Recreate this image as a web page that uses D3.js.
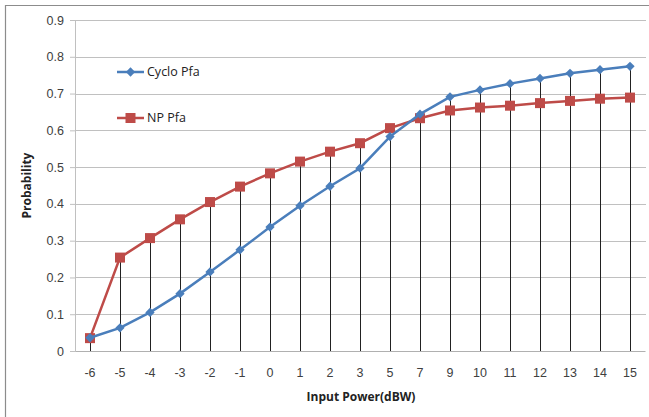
<!DOCTYPE html>
<html><head><meta charset="utf-8">
<script src="https://cdn.jsdelivr.net/npm/d3@7"></script>
<style>
body{margin:0;background:#fff;}
svg{display:block;font-family:"Open Sans","Noto Sans",sans-serif;}
</style></head>
<body>
<script>
const categories = ["-6","-5","-4","-3","-2","-1","0","1","2","3","5","7","9","10","11","12","13","14","15"];
const cycloPfa = [0.036,0.063,0.105,0.156,0.215,0.275,0.337,0.395,0.448,0.497,0.583,0.644,0.691,0.710,0.727,0.741,0.755,0.765,0.774];
const npPfa    = [0.035,0.254,0.307,0.358,0.405,0.447,0.483,0.515,0.542,0.565,0.606,0.633,0.654,0.662,0.667,0.674,0.680,0.686,0.689];
const yTicks = [0,0.1,0.2,0.3,0.4,0.5,0.6,0.7,0.8,0.9];
const seriesNames = ["Cyclo Pfa","NP Pfa"];

const W = 649, H = 417;
const m = {left:75, right:4, top:20, bottom:66};
const svg = d3.select("body").append("svg").attr("width",W).attr("height",H);

// outer frame (left and top visible)
svg.append("line").attr("x1",5.5).attr("x2",5.5).attr("y1",5).attr("y2",H).attr("stroke","#8c8c8c").attr("stroke-width",1.2);
svg.append("line").attr("x1",5).attr("x2",W).attr("y1",5.5).attr("y2",5.5).attr("stroke","#8c8c8c").attr("stroke-width",1.2);

const x = d3.scaleBand().domain(categories).range([m.left, W-m.right]);
const y = d3.scaleLinear().domain([0,0.9]).range([H-m.bottom, m.top]);
const cx = c => x(c) + x.bandwidth()/2;

// gridlines
svg.append("g").selectAll("line").data(yTicks.filter(t=>t>0)).join("line")
  .attr("x1",m.left).attr("x2",W-m.right+1)
  .attr("y1",d=>Math.round(y(d))+0.5).attr("y2",d=>Math.round(y(d))+0.5)
  .attr("stroke","#c0c0c0").attr("stroke-width",1.2);

// y axis
const yAxis = svg.append("g").attr("transform",`translate(${m.left},0)`)
  .call(d3.axisLeft(y).tickValues(yTicks).tickSize(5).tickPadding(6).tickFormat(d=>d===0?"0":d3.format(".1f")(d)));
yAxis.select(".domain").attr("stroke","#c0c0c0");
yAxis.selectAll(".tick line").attr("stroke","#c0c0c0");
yAxis.selectAll("text").attr("fill","#404040").style("font-size","12.5px");

// x axis
const xAxis = svg.append("g").attr("transform",`translate(0,${H-m.bottom})`)
  .call(d3.axisBottom(x).tickSize(0).tickPadding(17));
xAxis.select(".domain").attr("stroke","#b0b0b0").attr("stroke-width",1.2);
xAxis.selectAll("text").attr("fill","#404040").style("font-size","12.5px");

// drop lines
svg.append("g").selectAll("line").data(categories).join("line")
  .attr("x1",(d)=>Math.round(cx(d))+0.5).attr("x2",(d)=>Math.round(cx(d))+0.5)
  .attr("y1",(d,i)=>y(Math.max(cycloPfa[i],npPfa[i]))).attr("y2",y(0))
  .attr("stroke","#222").attr("stroke-width",1);

const line = d3.line().x((d,i)=>cx(categories[i])).y(d=>y(d));
const colors = ["#4a7ebb","#be4b48"];

// NP series
svg.append("path").datum(npPfa).attr("d",line).attr("fill","none").attr("stroke",colors[1]).attr("stroke-width",2.5);
svg.append("g").selectAll("rect").data(npPfa).join("rect")
  .attr("x",(d,i)=>cx(categories[i])-5).attr("y",d=>y(d)-5).attr("width",10).attr("height",10)
  .attr("fill",colors[1]);

// Cyclo series
svg.append("path").datum(cycloPfa).attr("d",line).attr("fill","none").attr("stroke",colors[0]).attr("stroke-width",2.5);
const diamond = d3.symbol().type(d3.symbolDiamond2).size(55);
svg.append("g").selectAll("path").data(cycloPfa).join("path")
  .attr("d",diamond).attr("transform",(d,i)=>`translate(${cx(categories[i])},${y(d)})`)
  .attr("fill",colors[0]);

// legend
const leg = svg.append("g");
const legY = [72,118];
seriesNames.forEach((n,i)=>{
  leg.append("line").attr("x1",117).attr("x2",144).attr("y1",legY[i]).attr("y2",legY[i]).attr("stroke",colors[i]).attr("stroke-width",2.5);
  if(i===0){
    leg.append("path").attr("d",diamond).attr("transform",`translate(130.5,${legY[i]})`).attr("fill",colors[i]);
  } else {
    leg.append("rect").attr("x",125.5).attr("y",legY[i]-5).attr("width",10).attr("height",10).attr("fill",colors[i]);
  }
  leg.append("text").attr("x",147).attr("y",legY[i]).attr("dy","0.35em").attr("fill","#222").style("font-size","12.5px").text(n);
});

// axis titles
svg.append("text").attr("transform",`translate(31,${(m.top+H-m.bottom)/2}) rotate(-90)`)
  .attr("text-anchor","middle").style("font-size","12px").style("font-weight","bold").attr("fill","#222").text("Probability");
svg.append("text").attr("x",361).attr("y",401).attr("text-anchor","middle")
  .style("font-size","12px").style("font-weight","bold").attr("fill","#222").text("Input Power(dBW)");
</script>
</body></html>
